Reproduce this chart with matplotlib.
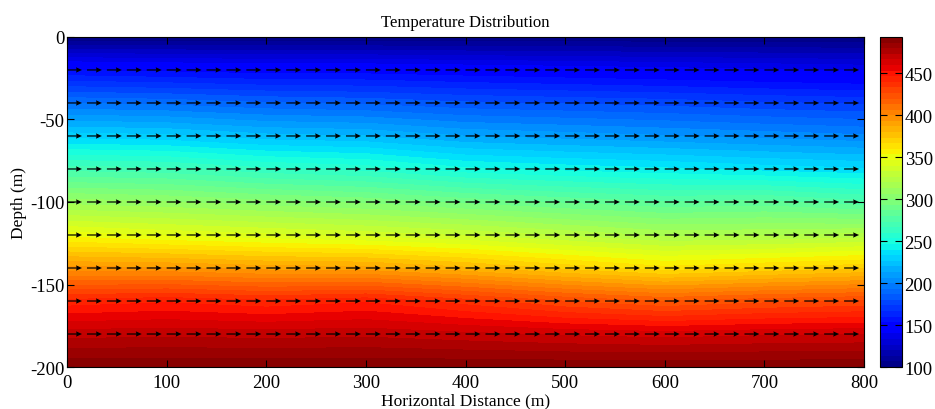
import numpy as np
import matplotlib
matplotlib.use('Agg')
import matplotlib.pyplot as plt

plt.rcParams['font.family'] = 'Liberation Serif'
plt.rcParams['font.size'] = 13.5
plt.rcParams['axes.unicode_minus'] = False

dist = np.array([0, 100, 200, 300, 400, 500, 600, 700, 800])
depth = np.array([0, -20, -40, -60, -80, -100, -120, -140, -160, -180, -200])

# temperature, one row per depth, one column per distance
temp = np.array([
    [100, 100, 100, 100, 100, 100, 100, 100, 100],
    [153, 151, 149, 149, 147, 145, 143, 141, 139],
    [193, 191, 187, 185, 181, 179, 177, 174, 172],
    [230, 228, 222, 220, 213, 210, 207, 204, 201],
    [270, 268, 261, 257, 248, 244, 241, 237, 234],
    [310, 307, 302, 298, 291, 285, 280, 282, 275],
    [350, 345, 341, 337, 332, 325, 318, 319, 322],
    [395, 394, 390, 389, 381, 371, 362, 367, 372],
    [442, 445, 441, 445, 436, 426, 419, 424, 427],
    [470, 471, 470, 471, 468, 465, 463, 465, 466],
    [492, 492, 492, 492, 492, 492, 492, 492, 492],
])

# flow arrows
arrow_x = np.arange(0, 800, 20)
arrow_y = np.arange(-20, -200, -20)
AX, AY = np.meshgrid(arrow_x, arrow_y)
U = np.ones_like(AX, dtype=float)
V = np.zeros_like(AY, dtype=float)

fig = plt.figure(figsize=(9.35, 4.1), dpi=100)
ax = fig.add_axes([0.0717, 0.1024, 0.8524, 0.805])
cax = fig.add_axes([0.941, 0.1024, 0.0235, 0.805])

levels = np.linspace(100, 493, 60)
cs = ax.contourf(dist, depth, temp, levels=levels, cmap='jet', vmin=100, vmax=493)
ax.quiver(AX, AY, U, V, angles='xy', scale_units='xy', scale=1 / 15.0,
          width=0.0015, headwidth=4.5, headlength=5, headaxislength=4.5, color='black')

ax.set_xlim(0, 800)
ax.set_ylim(-200, 0)
ax.set_xticks(np.arange(0, 801, 100))
ax.set_yticks(np.arange(-200, 1, 50))
ax.tick_params(direction='in', top=True, right=True, length=5, pad=2)
ax.tick_params(axis='x', pad=5)
ax.set_title('Temperature Distribution', fontsize=12, pad=8)
ax.set_xlabel('Horizontal Distance (m)', fontsize=12.5, labelpad=1)
ax.set_ylabel('Depth (m)', fontsize=12.5, labelpad=2)

cb = fig.colorbar(cs, cax=cax, ticks=np.arange(100, 451, 50))
cb.ax.tick_params(direction='in', length=5, left=True, pad=2)

fig.savefig('out.png', dpi=100)
